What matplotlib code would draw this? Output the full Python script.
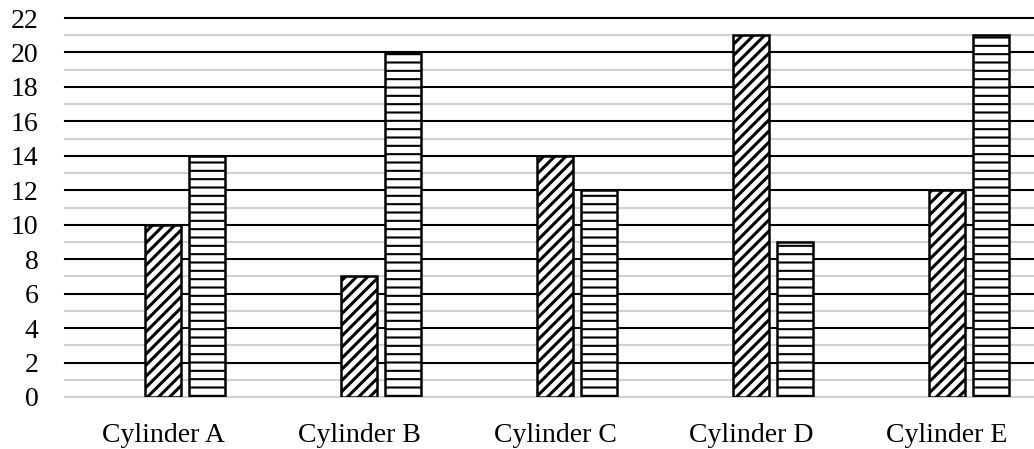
import numpy as np
import matplotlib.pyplot as plt

categories = ["Cylinder A", "Cylinder B", "Cylinder C", "Cylinder D", "Cylinder E"]
series_diag = [10, 7, 14, 21, 12]
series_horiz = [14, 20, 12, 9, 21]

plt.rcParams["font.family"] = ["Liberation Serif", "DejaVu Serif"]
plt.rcParams["hatch.color"] = "black"

fig = plt.figure(figsize=(10.34, 4.49), dpi=100)
# axes runs past the right edge, as in the cropped original
ax = fig.add_axes([65 / 1034, 52 / 449, 980 / 1034, 379 / 449])

x = np.arange(len(categories))
w = 0.18
slot = 0.224
# three slots per group, the first one is empty
plt.rcParams["hatch.linewidth"] = 2.2
b1 = ax.bar(x, series_diag, width=w, facecolor="white", edgecolor="black",
            linewidth=1.8, hatch="///", zorder=3)
plt.rcParams["hatch.linewidth"] = 1.5
b2 = ax.bar(x + slot, series_horiz, width=w, facecolor="white", edgecolor="black",
            linewidth=1.8, hatch="--", zorder=3)
for bars, hl in ((b1, 2.2), (b2, 1.5)):
    for p in bars:
        if hasattr(p, "set_hatch_linewidth"):
            p.set_hatch_linewidth(hl)

ax.set_xlim(-0.5, len(categories) - 0.5)
ax.set_ylim(0, 22)
ax.set_xticks(x)
ax.set_xticklabels(categories)
ax.set_yticks(np.arange(0, 23, 2))

# grid lines: black every 2, grey in between and at zero
for v in range(0, 23):
    if v % 2 == 0 and v > 0:
        ax.axhline(v, color="black", linewidth=1.5, zorder=1, clip_on=False)
    else:
        ax.axhline(v, color="#d0d0d0", linewidth=1.5, zorder=1, clip_on=False)

for s in ax.spines.values():
    s.set_visible(False)
ax.tick_params(axis="both", which="both", length=0, labelsize=20)
ax.tick_params(axis="y", pad=19)
ax.tick_params(axis="x", pad=19)

fig.savefig("out.png", dpi=100)
